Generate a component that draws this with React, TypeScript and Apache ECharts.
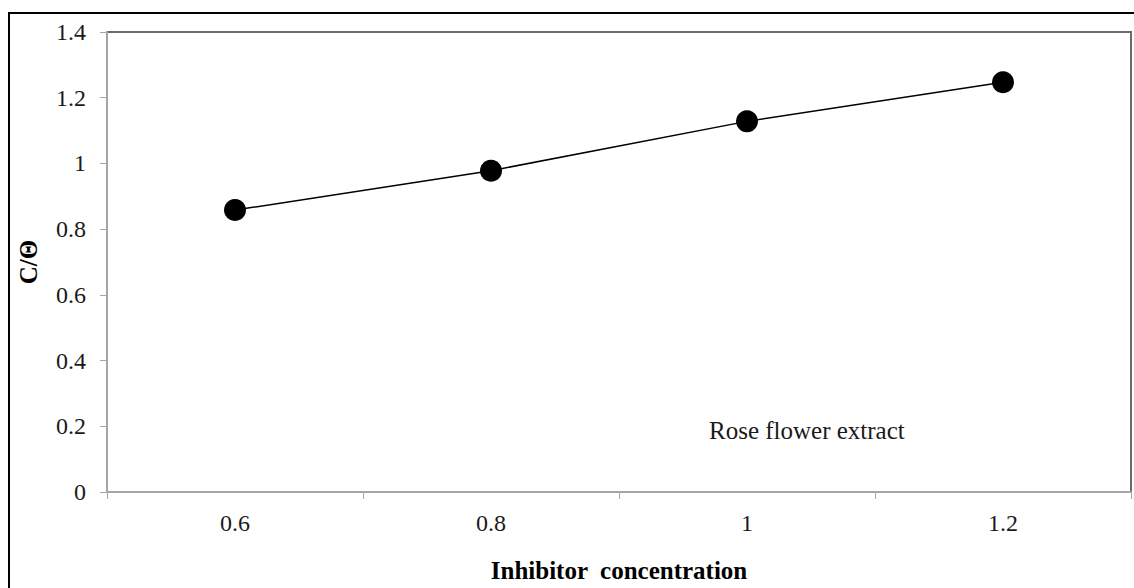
import React, { useEffect, useRef } from "react";
import * as echarts from "echarts";

const categories: string[] = ["0.6", "0.8", "1", "1.2"];
const cOverTheta: number[] = [0.858, 0.978, 1.128, 1.247];
const xAxisTitle = "Inhibitor  concentration";
const yAxisTitle = "C/Θ";
const annotation = "Rose flower extract";

const FONT = "'Liberation Serif', 'Times New Roman', serif";

export default function App() {
  const ref = useRef<HTMLDivElement>(null);
  useEffect(() => {
    document.body.style.margin = "0";
    if (!ref.current) return;
    const chart = echarts.init(ref.current, undefined, { renderer: "svg" });
    chart.setOption({
      animation: false,
      backgroundColor: "#ffffff",
      grid: {
        left: 107,
        right: 3,
        top: 32,
        bottom: 92,
        show: true,
        borderColor: "#6b6b6b",
        borderWidth: 2,
        backgroundColor: "transparent",
      },
      graphic: [
        {
          type: "rect",
          z: -10,
          shape: { x: 9, y: 13, width: 1200, height: 700 },
          style: { fill: "none", stroke: "#000000", lineWidth: 2 },
          silent: true,
        },
        {
          type: "text",
          left: 709,
          top: 418,
          style: {
            text: annotation,
            fontFamily: FONT,
            fontSize: 25,
            fill: "#1a1a1a",
          },
        },
      ],
      xAxis: {
        type: "category",
        data: categories,
        boundaryGap: true,
        name: xAxisTitle,
        nameLocation: "middle",
        nameGap: 66,
        nameTextStyle: {
          fontFamily: FONT,
          fontSize: 25,
          fontWeight: "bold",
          color: "#000000",
        },
        axisLine: { show: true, lineStyle: { color: "#a6a6a6", width: 2 } },
        axisTick: {
          show: true,
          alignWithLabel: false,
          length: 7,
          lineStyle: { color: "#a6a6a6", width: 1 },
        },
        axisLabel: {
          fontFamily: FONT,
          fontSize: 24,
          color: "#1a1a1a",
          margin: 19,
        },
        splitLine: { show: false },
      },
      yAxis: {
        type: "value",
        min: 0,
        max: 1.4,
        interval: 0.2,
        name: yAxisTitle,
        nameLocation: "middle",
        nameGap: 66,
        nameRotate: 90,
        nameTextStyle: {
          fontFamily: FONT,
          fontSize: 25,
          fontWeight: "bold",
          color: "#000000",
        },
        axisLine: { show: true, lineStyle: { color: "#a6a6a6", width: 2 } },
        axisTick: {
          show: true,
          length: 7,
          lineStyle: { color: "#a6a6a6", width: 1 },
        },
        axisLabel: {
          fontFamily: FONT,
          fontSize: 24,
          color: "#1a1a1a",
          margin: 21,
        },
        splitLine: { show: false },
      },
      series: [
        {
          type: "line",
          data: cOverTheta,
          symbol: "circle",
          symbolSize: 22,
          lineStyle: { color: "#000000", width: 1.5 },
          itemStyle: { color: "#000000" },
        },
      ],
    });
    return () => chart.dispose();
  }, []);
  return <div ref={ref} style={{ width: 1134, height: 588 }} />;
}
